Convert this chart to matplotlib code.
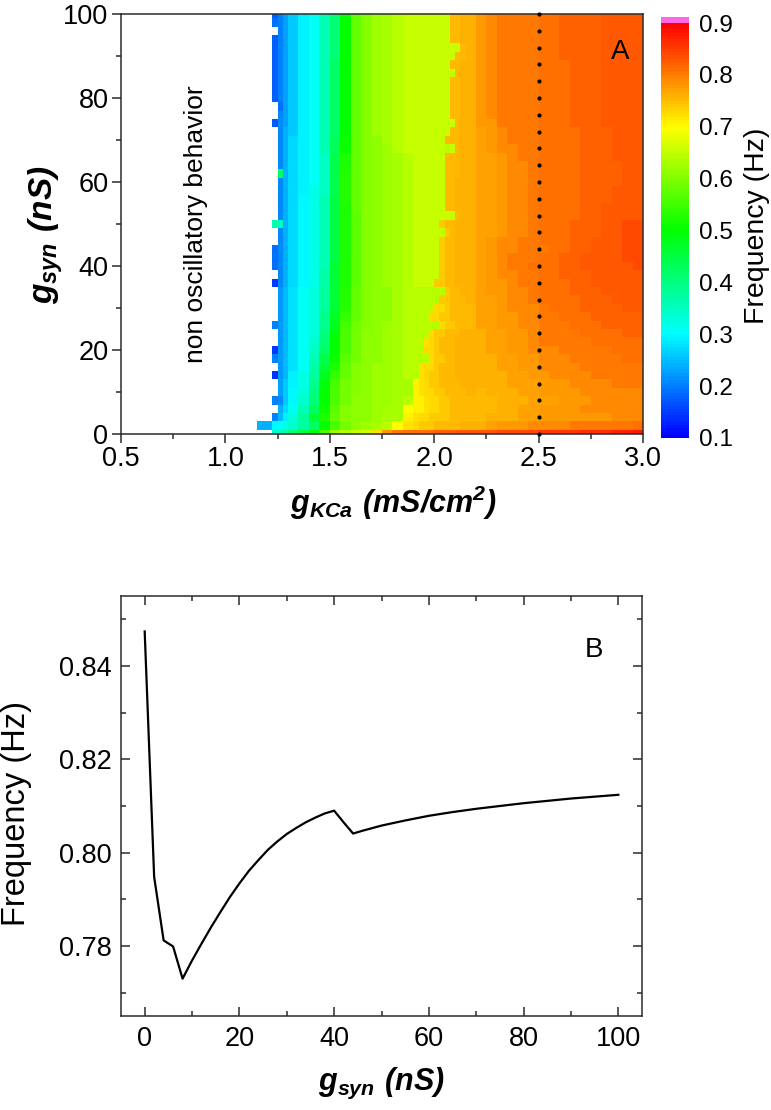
#!/usr/bin/env python3
# Frequency map (A) and the g_KCa = 2.5 cut through it (B)
import numpy as np
import matplotlib
matplotlib.use("Agg")
import matplotlib.pyplot as plt
from matplotlib.colors import LinearSegmentedColormap, Normalize
from matplotlib.ticker import MultipleLocator

plt.rcParams["font.family"] = ["Liberation Sans", "DejaVu Sans"]
plt.rcParams["mathtext.fontset"] = "custom"
plt.rcParams["mathtext.bfit"] = "Liberation Sans:italic:bold"
plt.rcParams["mathtext.rm"] = "Liberation Sans:bold"

W, H = 771, 1110
INK = "#2b2b2b"

# --- panel A: columns are cell edges in g_KCa, rows run from g_syn 100 down to 0 ---
gkca_edges = [1.15, 1.225, 1.25, 1.275, 1.3, 1.35, 1.4, 1.45, 1.5, 1.55, 1.6, 1.65, 1.7, 1.75,
              1.8, 1.85, 1.9, 1.925, 1.95, 1.975, 2.0, 2.025, 2.05, 2.075, 2.1, 2.125, 2.15,
              2.2, 2.25, 2.3, 2.35, 2.4, 2.45, 2.5, 2.55, 2.6, 2.65, 2.7, 2.75, 2.8, 2.85, 2.9, 2.95, 3.0]
gsyn_edges = [100, 99, 97, 95, 93, 91, 89, 87, 85, 83, 81, 79, 77, 75, 73, 71, 69, 67, 65, 63, 61, 59, 57, 55,
              53, 51, 49, 47, 45, 43, 41, 39, 37, 35, 33, 31, 29, 27, 25, 23, 21, 19, 17, 15, 13, 11, 9, 7, 5,
              3, 1, 0]
# frequency in hundredths of Hz, 0 = no oscillation
freq_cells = [
 [0,18,20,23,26,29,31,36,41,50,58,60,62,63,64,65,65,65,65,65,65,65,65,75,75,76,76,78,79,80,80,80,80,81,81,82,82,82,82,83,83,83,83],
 [0,19,20,23,26,29,31,36,41,50,58,60,62,63,64,65,65,65,65,65,65,65,65,75,75,76,76,78,79,80,80,80,80,81,81,82,82,82,82,83,83,83,83],
 [0,0,20,23,26,29,31,36,41,50,58,60,62,63,64,65,65,65,65,65,65,65,65,75,75,76,76,78,79,80,80,80,80,81,81,82,82,82,82,83,83,83,83],
 [0,18,20,23,26,29,31,36,41,50,58,60,62,63,64,65,65,65,65,65,65,65,65,75,75,76,76,78,79,80,80,80,80,81,81,82,82,82,82,83,83,83,83],
 [0,18,20,23,26,29,31,36,41,50,58,60,62,63,64,65,65,65,65,65,65,65,65,65,65,75,76,78,79,80,80,80,80,81,81,82,82,82,82,83,83,83,83],
 [0,18,20,23,26,29,31,36,41,50,58,60,62,63,64,65,65,65,65,65,65,65,65,65,75,75,76,78,79,80,80,80,80,81,81,82,82,82,82,83,83,83,83],
 [0,18,20,23,26,29,31,36,42,50,58,60,62,63,64,65,65,65,65,65,65,65,65,75,75,76,76,78,79,80,80,80,80,81,81,81,82,82,82,83,83,83,83],
 [0,18,20,23,26,29,31,36,42,50,58,60,62,63,64,65,65,65,65,65,65,65,65,65,75,76,76,78,79,80,80,80,80,81,81,81,82,82,82,83,83,83,83],
 [0,18,20,23,26,29,31,36,42,50,58,60,62,63,64,65,65,65,65,65,65,65,65,75,75,76,76,78,79,80,80,80,80,81,81,81,82,82,82,83,83,83,83],
 [0,18,20,23,26,29,31,36,42,50,58,60,62,63,64,65,65,65,65,65,65,65,65,75,75,76,76,78,79,80,80,80,80,81,81,81,82,82,82,83,83,83,83],
 [0,18,20,23,26,29,31,36,42,50,58,60,62,63,64,65,65,65,65,65,65,65,65,75,75,76,76,78,79,80,80,80,80,81,81,81,82,82,82,83,83,83,83],
 [0,0,19,23,26,29,31,36,42,50,58,60,62,63,64,65,65,65,65,65,65,65,65,75,75,76,76,78,79,80,80,80,80,81,81,81,82,82,82,83,83,83,83],
 [0,0,21,23,26,29,31,36,42,50,58,60,62,63,64,65,65,65,65,65,65,65,65,75,75,76,76,78,79,80,80,80,80,81,81,81,82,82,82,83,83,83,83],
 [0,17,21,23,26,29,31,36,42,50,58,60,62,63,64,65,65,65,65,65,65,65,65,65,75,76,76,78,78,80,80,80,80,81,81,81,82,82,82,83,83,83,83],
 [0,0,21,24,26,29,31,36,42,50,58,60,62,63,64,65,65,65,65,65,65,65,65,75,75,76,76,77,78,79,80,80,80,81,81,81,81,82,82,82,83,83,83],
 [0,0,21,24,27,29,31,36,43,51,58,60,61,63,64,65,65,65,65,65,65,65,75,75,75,76,76,77,78,79,80,80,80,81,81,81,81,82,82,82,83,83,83],
 [0,0,21,24,27,29,31,36,43,51,58,60,61,62,64,65,65,65,65,65,65,65,64,65,75,76,76,77,78,79,79,80,80,81,81,81,81,82,82,82,83,83,83],
 [0,0,21,24,27,29,31,35,44,52,58,60,61,62,63,64,65,65,65,65,65,65,75,75,75,76,76,77,77,78,79,80,80,81,81,81,81,82,82,82,83,83,83],
 [0,0,21,24,27,29,31,35,44,52,58,60,61,62,63,64,65,65,65,65,65,65,75,75,75,76,76,77,77,78,79,79,80,81,81,81,81,82,82,82,82,83,83],
 [0,0,42,24,27,29,31,35,44,53,58,60,61,62,63,64,65,65,65,65,65,65,75,75,75,76,76,77,77,78,79,79,80,81,81,81,81,82,82,82,82,83,83],
 [0,0,21,24,27,29,31,35,44,53,58,60,61,62,63,64,65,65,65,65,65,65,75,75,76,76,76,77,77,78,79,79,80,81,81,81,81,82,82,82,82,83,83],
 [0,0,21,24,27,29,32,35,44,53,58,60,61,62,63,64,65,65,65,65,65,65,75,75,76,76,76,77,77,78,79,79,80,81,81,81,81,82,82,82,83,83,83],
 [0,0,21,24,27,30,32,36,45,53,58,60,61,62,63,64,65,65,65,65,65,65,75,75,76,76,76,77,77,78,79,79,80,81,81,81,81,82,82,82,83,83,83],
 [0,0,21,24,27,30,32,36,45,52,58,60,61,62,63,64,65,65,65,65,65,65,75,75,76,76,76,77,77,78,79,79,80,81,81,81,81,82,82,83,83,83,83],
 [0,0,21,24,27,30,32,36,45,52,57,60,61,62,63,64,65,65,65,65,65,65,65,65,75,76,76,77,77,78,79,79,80,81,81,81,81,82,82,83,83,83,83],
 [0,36,36,24,27,30,32,36,45,52,57,60,61,62,63,64,65,65,65,65,65,74,75,75,76,76,76,77,77,78,79,79,80,81,81,81,82,82,82,83,83,84,84],
 [0,0,21,24,27,30,32,36,45,52,57,60,61,62,63,64,65,65,65,65,65,65,74,75,76,76,76,77,77,78,79,79,80,81,81,81,82,82,82,83,83,84,84],
 [0,0,21,24,27,30,32,36,45,52,57,60,61,62,63,64,65,65,65,65,65,74,75,75,76,76,76,77,78,79,79,80,80,81,81,81,82,82,83,83,83,84,84],
 [0,19,21,24,27,30,32,36,45,52,57,60,61,62,63,64,65,65,65,65,65,74,75,75,76,76,76,77,78,79,79,80,80,80,81,81,82,82,83,83,83,84,84],
 [0,19,21,24,27,30,32,36,45,52,57,60,61,62,63,64,65,65,65,65,65,74,75,75,76,76,76,77,78,79,80,80,80,81,81,82,82,83,83,83,83,84,84],
 [0,19,21,24,27,30,32,36,46,52,57,60,61,62,63,64,65,65,65,65,65,74,75,75,76,76,76,77,78,79,80,80,81,81,81,82,82,83,83,83,83,83,84],
 [0,0,21,24,27,30,32,37,46,52,57,60,61,62,63,64,65,65,65,65,65,74,75,75,76,76,76,77,78,79,79,80,80,81,81,82,82,82,83,83,83,83,83],
 [0,15,21,24,27,30,32,37,46,52,57,60,61,62,63,64,65,65,65,65,74,74,75,75,76,76,76,77,78,78,79,80,80,81,81,81,82,82,83,83,83,83,83],
 [0,0,22,25,28,31,33,38,46,53,58,60,61,61,63,64,64,64,64,64,64,64,74,75,75,76,76,77,78,78,79,79,80,81,81,81,82,82,82,83,83,83,83],
 [0,0,22,25,28,31,33,38,46,53,58,60,61,61,63,64,64,64,64,64,64,74,74,75,75,75,76,77,77,78,79,79,80,81,81,81,81,82,82,82,83,83,83],
 [0,0,22,25,28,31,33,38,46,53,58,60,61,61,63,64,64,64,64,64,73,73,74,75,75,75,75,77,77,78,79,79,79,80,81,81,81,82,82,82,82,83,83],
 [0,0,22,25,28,31,33,39,47,54,58,60,61,61,63,64,64,64,64,73,73,74,74,75,75,75,75,77,77,78,78,79,79,80,80,81,81,81,82,82,82,82,82],
 [0,20,22,25,28,31,33,39,48,55,59,60,61,62,63,64,64,64,64,64,64,73,74,74,75,75,75,77,77,78,78,79,79,80,80,80,81,81,81,82,82,82,82],
 [0,0,22,25,28,31,33,40,49,56,59,61,61,62,63,64,64,64,64,73,74,74,75,75,75,76,76,76,77,77,78,78,79,80,80,80,80,81,81,81,81,82,82],
 [0,0,22,25,28,31,34,41,50,56,59,61,61,62,63,64,64,64,72,73,74,75,75,75,76,76,76,76,77,77,78,78,79,80,80,80,80,80,81,81,81,81,81],
 [0,15,22,25,28,31,35,42,50,56,59,61,61,62,63,64,64,64,73,73,74,75,75,75,76,76,76,76,77,77,78,78,79,79,79,80,80,80,80,80,81,81,81],
 [0,20,22,25,28,31,36,44,51,57,59,61,61,62,63,64,64,64,64,73,74,74,75,75,76,76,76,76,76,77,77,78,78,79,79,79,80,80,80,80,80,81,81],
 [0,0,22,25,28,31,37,46,52,58,60,61,62,62,63,64,64,72,73,73,74,75,75,75,76,76,76,76,76,77,77,78,78,79,79,79,79,80,80,80,80,80,80],
 [0,14,22,25,29,32,38,48,54,58,60,61,62,62,63,64,64,72,73,74,74,75,75,75,76,76,76,76,76,76,77,77,78,78,79,79,79,79,80,80,80,80,80],
 [0,0,23,26,29,32,39,49,55,59,60,61,62,62,63,63,71,72,73,74,74,75,75,75,75,76,76,76,76,76,77,77,77,78,78,78,79,79,79,79,80,80,80],
 [0,0,23,26,30,33,40,50,56,59,60,61,62,62,63,63,71,72,73,73,74,74,75,75,75,75,76,75,76,76,76,77,77,78,78,78,78,79,79,79,79,79,79],
 [0,20,21,26,30,34,41,50,56,59,61,61,62,62,63,64,71,71,72,73,73,74,74,75,75,75,75,75,75,76,76,76,77,77,77,78,78,78,79,79,79,79,79],
 [0,0,24,27,31,36,43,51,57,60,61,61,62,63,63,70,71,71,72,73,73,74,74,75,75,75,75,75,75,76,76,77,77,78,78,78,78,79,79,79,79,79,79],
 [0,20,25,29,33,38,46,52,58,60,61,61,62,63,63,71,72,73,73,74,74,74,74,75,75,75,75,75,76,76,76,77,77,78,78,78,78,78,78,78,79,79,79],
 [24,30,31,32,34,37,42,50,55,59,61,62,63,64,70,72,73,74,74,74,75,75,75,75,75,76,76,76,77,78,78,78,79,79,79,79,80,80,80,80,80,80,81],
 [0,34,35,37,40,45,50,56,62,64,65,66,72,78,80,81,81,81,81,81,82,82,82,82,83,83,83,83,83,84,84,84,84,85,85,85,85,86,86,86,87,87,88],
]
# the dotted marker line at g_KCa = 2.5
dot_gkca = 2.5
dot_gsyn = [0, 4, 8, 12, 16, 20, 24, 28, 32, 36, 40, 44, 48, 52, 56, 60, 64, 68, 72, 76, 80, 84, 88, 92, 96, 100]

# --- panel B: frequency at g_KCa = 2.5 ---
cut_gsyn = [0, 2, 4, 6, 8, 10, 12, 14, 16, 18, 20, 22, 24, 26, 28, 30, 32, 34, 36, 38, 40, 42, 44, 46, 50, 55, 60, 65, 70, 75, 80, 85, 90, 95, 100]
cut_freq = [0.8474, 0.7948, 0.7812, 0.7799, 0.7730, 0.7769, 0.7805, 0.7840, 0.7873, 0.7905, 0.7934, 0.7961, 0.7984,
            0.8006, 0.8024, 0.8040, 0.8053, 0.8065, 0.8075, 0.8084, 0.8090, 0.8065, 0.8041, 0.8047, 0.8058, 0.8069,
            0.8079, 0.8087, 0.8094, 0.8100, 0.8106, 0.8111, 0.8116, 0.8120, 0.8124]

cmap_stops = ["#0000ff", "#00ffff", "#00ff00", "#ffff00", "#ff0000"]
cmap = LinearSegmentedColormap.from_list("rainbow_hz", cmap_stops, N=128)
cmap.set_over("#ff66e6")
norm = Normalize(0.1, 0.9)


def px_axes(fig, left, top, right, bottom):
    return fig.add_axes([left / W, 1 - bottom / H, (right - left) / W, (bottom - top) / H])


def px_text(fig, x, y, s, **kw):
    fig.text(x / W, 1 - y / H, s, ha="center", va="center", **kw)


fig = plt.figure(figsize=(W / 100, H / 100), dpi=100)

# ====== A ======
ax = px_axes(fig, 121, 14, 643, 434)
cells = np.ma.masked_equal(np.array(freq_cells) / 100, 0)
mesh = ax.pcolormesh(gkca_edges, gsyn_edges, cells, cmap=cmap, norm=norm)
ax.plot([dot_gkca] * len(dot_gsyn), dot_gsyn, "o", color="black", ms=3, mew=0, clip_on=False, zorder=4)
ax.set_xlim(0.5, 3.0); ax.set_ylim(0, 100)
ax.xaxis.set_major_locator(MultipleLocator(0.5)); ax.xaxis.set_minor_locator(MultipleLocator(0.25))
ax.yaxis.set_major_locator(MultipleLocator(20)); ax.yaxis.set_minor_locator(MultipleLocator(10))
ax.tick_params(which="major", direction="out", length=6.5, width=1.1, color=INK, labelsize=19.5, pad=2.5)
ax.tick_params(which="minor", direction="out", length=3.6, width=1.1, color=INK)
for s in ax.spines.values():
    s.set_linewidth(1.1); s.set_color(INK)
ax.text(0.86, 50, "non oscillatory behavior", rotation=90, fontsize=19, ha="center", va="center")
ax.text(2.89, 91, "A", fontsize=20, ha="center", va="center")

cax = px_axes(fig, 661, 17, 689, 438)
cb = fig.colorbar(mesh, cax=cax, extend="max", extendrect=True, extendfrac=6 / 415)
cb.set_ticks([0.1, 0.2, 0.3, 0.4, 0.5, 0.6, 0.7, 0.8, 0.9])
cb.ax.set_yticklabels(["0.1", "0.2", "0.3", "0.4", "0.5", "0.6", "0.7", "0.8", "0.9"])
cb.ax.tick_params(length=0, labelsize=17.5, pad=7)
cb.ax.minorticks_off()
cb.outline.set_linewidth(0)
px_text(fig, 757, 226, "Frequency (Hz)", rotation=90, fontsize=20.5)

px_text(fig, 46, 235, r"$\mathbfit{g}_{\mathbfit{syn}}\ \mathbfit{(nS)}$", rotation=90, fontsize=24)
px_text(fig, 393, 503, r"$\mathbfit{g}_{\mathbfit{KCa}}\ \mathbfit{(mS/cm}^{\mathbfit{2}}\mathbfit{)}$", fontsize=22)

# ====== B ======
ax2 = px_axes(fig, 121, 596, 642, 1016)
ax2.plot(cut_gsyn, cut_freq, color="black", lw=1.6)
ax2.set_xlim(-5, 105); ax2.set_ylim(0.765, 0.855)
ax2.xaxis.set_major_locator(MultipleLocator(20)); ax2.xaxis.set_minor_locator(MultipleLocator(10))
ax2.yaxis.set_major_locator(MultipleLocator(0.02)); ax2.yaxis.set_minor_locator(MultipleLocator(0.01))
ax2.tick_params(which="both", direction="in", top=True, right=True, width=1.1, color=INK)
ax2.tick_params(which="major", length=6.5, labelsize=19.5, pad=7)
ax2.tick_params(which="minor", length=3.6)
for s in ax2.spines.values():
    s.set_linewidth(1.1); s.set_color(INK)
ax2.text(94.8, 0.8435, "B", fontsize=20, ha="center", va="center")
px_text(fig, 17, 813, "Frequency (Hz)", rotation=90, fontsize=23.5)
px_text(fig, 381, 1083, r"$\mathbfit{g}_{\mathbfit{syn}}\ \mathbfit{(nS)}$", fontsize=22)

fig.savefig("out.png", dpi=100)
